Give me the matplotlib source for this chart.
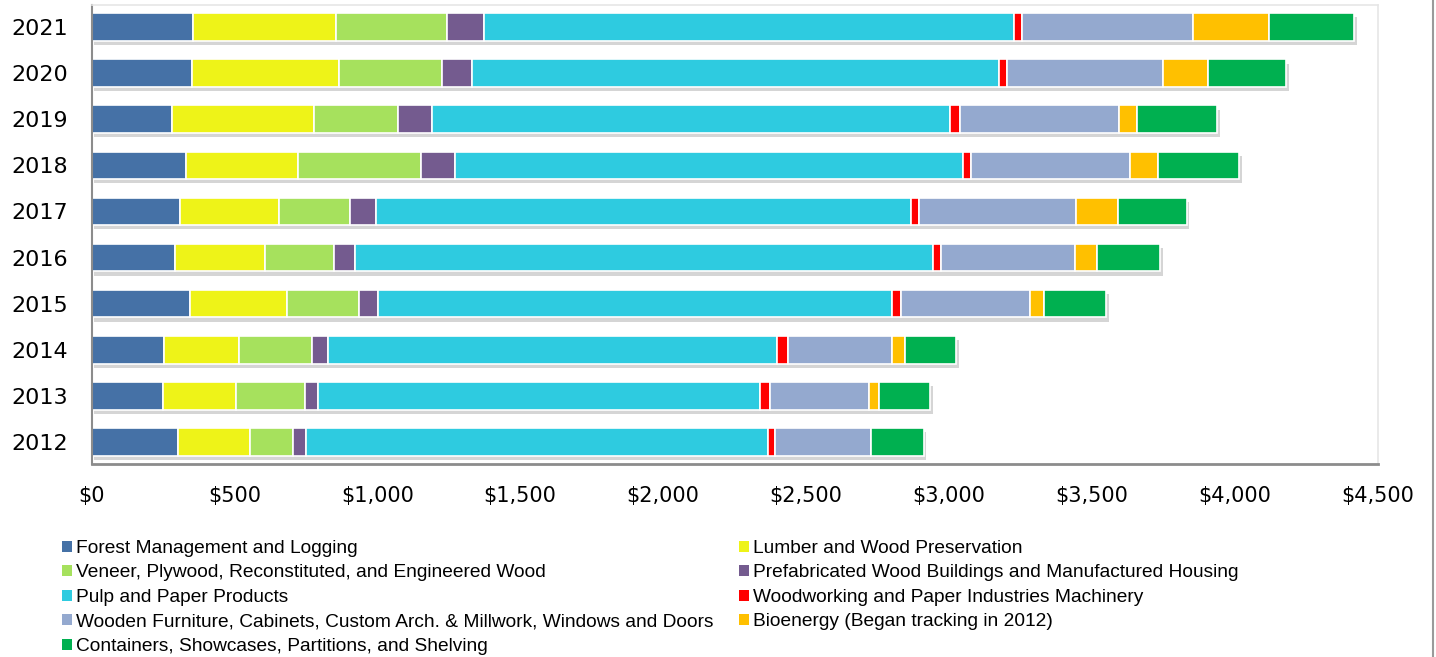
"""Stacked horizontal bars: forest products sales by sector, 2012-2021."""

import matplotlib
matplotlib.use("Agg")
import matplotlib.pyplot as plt
import matplotlib.patheffects as pe
from matplotlib.lines import Line2D
from matplotlib.patches import Patch
from matplotlib.ticker import FuncFormatter, MultipleLocator
import numpy as np

# ── Data ($) ───────────────────────────────────────────────────────────────

YEARS = ["2012", "2013", "2014", "2015", "2016", "2017", "2018", "2019", "2020", "2021"]

SECTORS = [
    "Forest Management and Logging",
    "Lumber and Wood Preservation",
    "Veneer, Plywood, Reconstituted, and Engineered Wood",
    "Prefabricated Wood Buildings and Manufactured Housing",
    "Pulp and Paper Products",
    "Woodworking and Paper Industries Machinery",
    "Wooden Furniture, Cabinets, Custom Arch. & Millwork, Windows and Doors",
    "Bioenergy (Began tracking in 2012)",
    "Containers, Showcases, Partitions, and Shelving",
]

forest_mgmt = [302, 249, 252, 343, 291, 308, 329, 280, 352, 355]
lumber      = [254, 258, 265, 340, 317, 347, 395, 498, 514, 500]
veneer      = [150, 239, 253, 253, 242, 251, 428, 295, 359, 390]
prefab      = [44, 48, 57, 67, 71, 89, 121, 119, 108, 127]
pulp_paper  = [1618, 1544, 1573, 1797, 2023, 1871, 1776, 1813, 1842, 1857]
machinery   = [25, 35, 37, 33, 28, 30, 30, 33, 28, 28]
furniture   = [333, 346, 365, 450, 468, 550, 554, 559, 547, 598]
bioenergy   = [0, 38, 46, 51, 79, 146, 99, 62, 158, 264]
containers  = [186, 177, 178, 216, 221, 240, 285, 279, 272, 299]

SERIES = [forest_mgmt, lumber, veneer, prefab, pulp_paper,
          machinery, furniture, bioenergy, containers]

COLORS = ["#4571a6", "#eef318", "#a6e15d", "#745b8f", "#2ecbe0",
          "#ff0000", "#94a9cf", "#ffc000", "#00b050"]


def main():
    fig = plt.figure(figsize=(14.36, 6.57), dpi=100)
    ax = fig.add_axes([91.5 / 1436, 1 - 464 / 657, (1377.5 - 91.5) / 1436, 459 / 657])

    y = np.arange(len(YEARS))
    left = np.zeros(len(YEARS))
    shadow = [pe.SimplePatchShadow(offset=(2, -3), shadow_rgbFace="#777777", alpha=0.3),
              pe.Normal()]
    for vals, color, name in zip(SERIES, COLORS, SECTORS):
        vals = np.array(vals, dtype=float)
        bars = ax.barh(y, vals, left=left, height=0.6, color=color,
                       edgecolor="white", linewidth=1.2, label=name)
        for b in bars:
            b.set_path_effects(shadow)
        left += vals

    ax.set_xlim(0, 4500)
    ax.set_ylim(-0.48, len(YEARS) - 0.52)
    ax.set_yticks(y)
    ax.set_yticklabels(YEARS)
    ax.xaxis.set_major_locator(MultipleLocator(500))
    ax.xaxis.set_major_formatter(FuncFormatter(lambda v, _: f"${v:,.0f}"))
    ax.tick_params(axis="x", length=0, pad=16, labelsize=15)
    ax.tick_params(axis="y", length=0, pad=17, labelsize=16)

    for side in ("top", "right"):
        ax.spines[side].set_color("#e6e6e6")
        ax.spines[side].set_linewidth(1.2)
    ax.spines["left"].set_color("#8c8c8c")
    ax.spines["left"].set_linewidth(1.5)
    ax.spines["bottom"].set_color("#8c8c8c")
    ax.spines["bottom"].set_linewidth(2.0)

    # ── Legend: two columns, row-major order ──────────────────────────────
    proxies = [Patch(facecolor=c, edgecolor="none") for c in COLORS]
    leg_kw = dict(frameon=False, handlelength=0.5, handleheight=0.5,
                  handletextpad=0.25, labelspacing=0.39, borderaxespad=0, borderpad=0,
                  prop={"family": ["Liberation Sans", "DejaVu Sans"], "size": 13.8})
    col1 = [0, 2, 4, 6, 8]
    col2 = [1, 3, 5, 7]
    fig.legend([proxies[i] for i in col1], [SECTORS[i] for i in col1],
               loc="upper left", bbox_to_anchor=(62 / 1436, 1 - 540 / 657), **leg_kw)
    fig.legend([proxies[i] for i in col2], [SECTORS[i] for i in col2],
               loc="upper left", bbox_to_anchor=(739 / 1436, 1 - 540 / 657), **leg_kw)

    # slide frame on the right edge
    fig.add_artist(Line2D([1433 / 1436, 1433 / 1436], [0, 1], transform=fig.transFigure,
                          color="#9a9a9a", lw=1.5))

    fig.savefig("out.png", dpi=100)
    plt.close("all")


if __name__ == "__main__":
    main()
